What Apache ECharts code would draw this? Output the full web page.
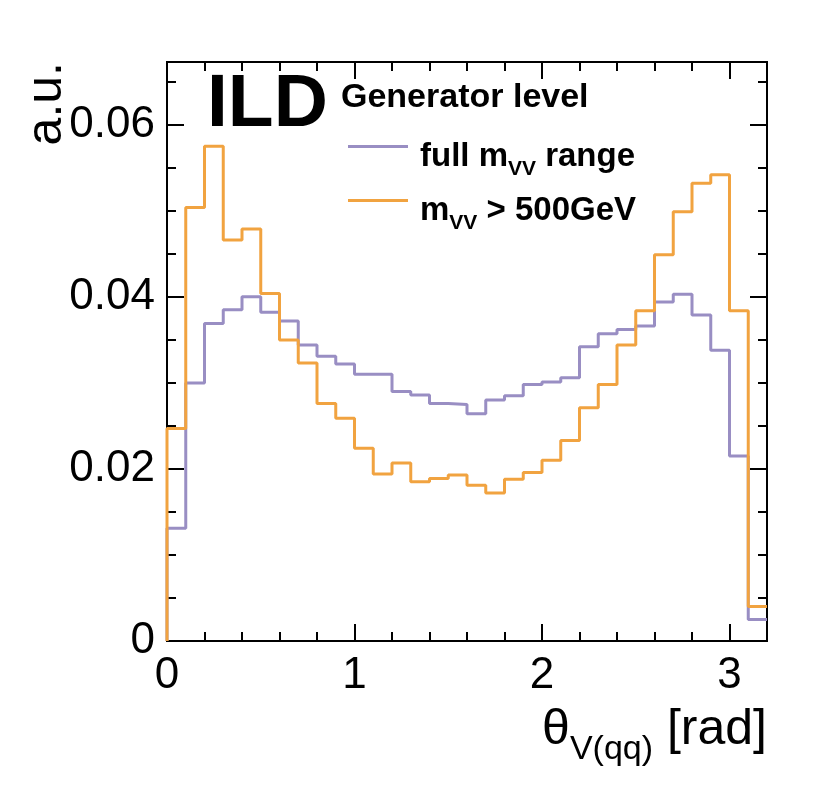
<!DOCTYPE html>
<html>
<head>
<meta charset="utf-8">
<script src="https://cdn.jsdelivr.net/npm/echarts@6/dist/echarts.min.js"></script>
<style>
  html, body { margin: 0; padding: 0; background: #fff; }
  #chart { width: 830px; height: 798px; }
</style>
</head>
<body>
<div id="chart"></div>
<script>
// bin edges of the histogram (rad)
const binEdges = [0.0, 0.1, 0.2, 0.3, 0.4, 0.5, 0.6, 0.7, 0.8, 0.9, 1.0,
                  1.1, 1.2, 1.3, 1.4, 1.5, 1.6, 1.7, 1.8, 1.9, 2.0,
                  2.1, 2.2, 2.3, 2.4, 2.5, 2.6, 2.7, 2.8, 2.9, 3.0, 3.1, 3.2];

// full m_VV range (purple)
const fullRange = [0.0131, 0.0300, 0.0369, 0.0385, 0.0400, 0.0382, 0.0372, 0.0344,
                   0.0331, 0.0322, 0.0310, 0.0310, 0.0290, 0.0286, 0.0276, 0.0275,
                   0.0264, 0.0280, 0.0285, 0.0298, 0.0301, 0.0306, 0.0342, 0.0357,
                   0.0362, 0.0366, 0.0394, 0.0403, 0.0379, 0.0338, 0.0215, 0.0025];

// m_VV > 500 GeV (orange)
const highMass = [0.0247, 0.0504, 0.0575, 0.0466, 0.0479, 0.0404, 0.0350, 0.0323,
                  0.0276, 0.0259, 0.0224, 0.0194, 0.0207, 0.0185, 0.0189, 0.0193,
                  0.0181, 0.0172, 0.0188, 0.0196, 0.0210, 0.0233, 0.0271, 0.0298,
                  0.0344, 0.0384, 0.0449, 0.0499, 0.0532, 0.0542, 0.0384, 0.0040];

const seriesNames = ['full', 'high'];
const xMax = 3.2;
const yMax = 0.0673;

const FONT = '"Liberation Sans", Arial, Helvetica, sans-serif';

// histogram outline: start at 0, one point per bin, close at last edge
function stepData(values) {
    const pts = [[binEdges[0], 0]];
    values.forEach((v, i) => pts.push([binEdges[i], v]));
    pts.push([binEdges[values.length], values[values.length - 1]]);
    return pts;
}

// one axis of the frame: major or minor ticks, pointing inward
function xAx(pos, interval, len, labels) {
    return {
        type: 'value', position: pos, min: 0, max: xMax, interval: interval,
        axisLine: { show: true, onZero: false, lineStyle: { color: '#000', width: 2 } },
        axisTick: { show: true, inside: true, length: len, lineStyle: { color: '#000', width: 2 } },
        axisLabel: {
            show: labels, margin: 13, showMaxLabel: false,
            color: '#000', fontSize: 44, fontFamily: FONT
        },
        splitLine: { show: false }
    };
}
function yAx(pos, interval, len, labels) {
    return {
        type: 'value', position: pos, min: 0, max: yMax, interval: interval,
        axisLine: { show: true, onZero: false, lineStyle: { color: '#000', width: 2 } },
        axisTick: { show: true, inside: true, length: len, lineStyle: { color: '#000', width: 2 } },
        axisLabel: {
            show: labels, margin: 12, showMaxLabel: false,
            color: '#000', fontSize: 44, fontFamily: FONT,
            formatter: v => (v === 0 ? '0' : v.toFixed(2))
        },
        splitLine: { show: false }
    };
}

const chart = echarts.init(document.getElementById('chart'));

const legendLabels = {
    full: '{p|full m}{s|VV}{t| range}',
    high: '{p|m}{s|VV}{t| > 500GeV}'
};

const option = {
    animation: false,
    backgroundColor: '#fff',
    color: ['#998ec3', '#f1a340'],
    grid: { left: 167, right: 63, top: 62, bottom: 157 },
    xAxis: [
        xAx('bottom', 1, 17, true),
        xAx('bottom', 0.2, 9, false),
        xAx('top', 1, 17, false),
        xAx('top', 0.2, 9, false)
    ],
    yAxis: [
        yAx('left', 0.02, 17, true),
        yAx('left', 0.005, 9, false),
        yAx('right', 0.02, 17, false),
        yAx('right', 0.005, 9, false)
    ],
    legend: {
        orient: 'vertical', left: 343, top: 125,
        itemWidth: 60, itemHeight: 3, itemGap: 4,
        icon: 'rect',
        data: seriesNames,
        formatter: name => legendLabels[name],
        textStyle: {
            color: '#000', fontFamily: FONT, fontWeight: 'bold', fontSize: 33,
            rich: {
                p: { fontFamily: FONT, fontWeight: 'bold', fontSize: 33, lineHeight: 33, verticalAlign: 'top', padding: [10, 0, 0, 7] },
                t: { fontFamily: FONT, fontWeight: 'bold', fontSize: 33, lineHeight: 33, verticalAlign: 'top', padding: [10, 0, 0, 0] },
                s: { fontFamily: FONT, fontWeight: 'bold', fontSize: 21, lineHeight: 21, verticalAlign: 'top', padding: [29, 0, 0, 0] }
            }
        }
    },
    graphic: [
        {
            type: 'text', x: 207, y: 105,
            style: { text: 'ILD', font: 'bold 75px ' + FONT, fill: '#000', textAlign: 'left', textVerticalAlign: 'middle' }
        },
        {
            type: 'text', x: 341, y: 98,
            style: { text: 'Generator level', font: 'bold 34px ' + FONT, fill: '#000', textAlign: 'left', textVerticalAlign: 'middle' }
        },
        {
            type: 'text', x: 47, y: 62, rotation: Math.PI / 2,
            style: { text: 'a.u.', font: '50px ' + FONT, fill: '#000', textAlign: 'right', textVerticalAlign: 'middle' }
        },
        {
            type: 'text', x: 767, y: 730,
            style: {
                text: '{a|θ}{b|V(qq)}{a| [rad]}',
                textAlign: 'right', textVerticalAlign: 'middle', fill: '#000',
                rich: {
                    a: { fontFamily: FONT, fontSize: 50, lineHeight: 50, verticalAlign: 'top' },
                    b: { fontFamily: FONT, fontSize: 34, lineHeight: 34, verticalAlign: 'top', padding: [28, 0, 0, 0] }
                }
            }
        }
    ],
    series: [
        {
            name: 'full', type: 'line', step: 'end',
            xAxisIndex: 0, yAxisIndex: 0,
            data: stepData(fullRange),
            showSymbol: false, symbol: 'none', clip: false,
            lineStyle: { color: '#998ec3', width: 3 }
        },
        {
            name: 'high', type: 'line', step: 'end',
            xAxisIndex: 0, yAxisIndex: 0,
            data: stepData(highMass),
            showSymbol: false, symbol: 'none', clip: false,
            lineStyle: { color: '#f1a340', width: 3 }
        }
    ]
};

chart.setOption(option);
</script>
</body>
</html>
